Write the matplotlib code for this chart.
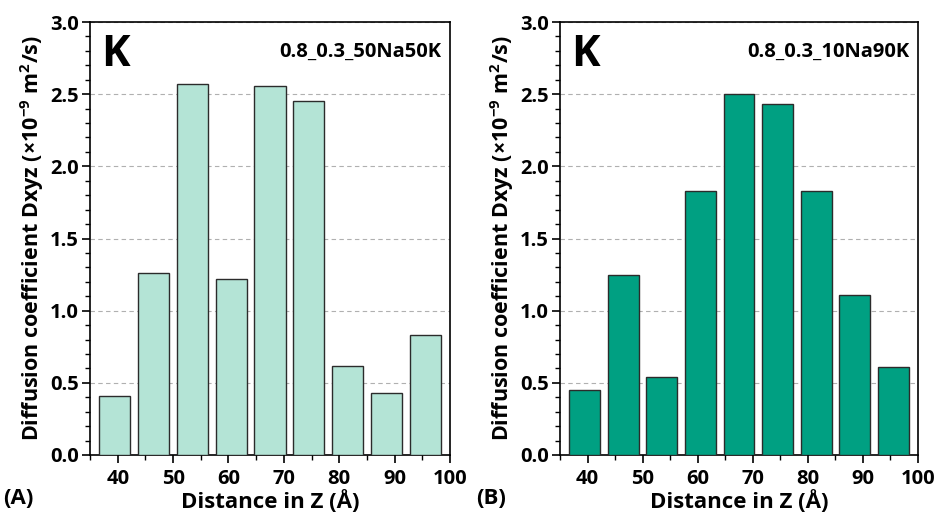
import matplotlib
matplotlib.use("Agg")
import matplotlib.pyplot as plt
from matplotlib.ticker import MultipleLocator

plt.rcParams['font.family'] = ['Open Sans', 'DejaVu Sans']
plt.rcParams['font.weight'] = 'bold'
plt.rcParams['mathtext.fontset'] = 'custom'
plt.rcParams['mathtext.rm'] = 'Open Sans:bold'
plt.rcParams['mathtext.it'] = 'Open Sans:bold'
plt.rcParams['mathtext.bf'] = 'Open Sans:bold'
plt.rcParams['mathtext.default'] = 'bf'

centers = [39.5, 46.5, 53.5, 60.5, 67.5, 74.5, 81.5, 88.5, 95.5]
d_50na50k = [0.41, 1.26, 2.57, 1.22, 2.56, 2.45, 0.62, 0.43, 0.83]
d_10na90k = [0.45, 1.25, 0.54, 1.83, 2.50, 2.43, 1.83, 1.11, 0.61]
labels = ["0.8_0.3_50Na50K", "0.8_0.3_10Na90K"]
colors = ["#b4e4d6", "#00a082"]
panel = ["(A)", "(B)"]
xticks = [40, 50, 60, 70, 80, 90, 100]
yticks = [0.0, 0.5, 1.0, 1.5, 2.0, 2.5, 3.0]

fig = plt.figure(figsize=(9.37, 5.18), dpi=100)
W, H = 937, 518
rects = [(90, 22, 360, 433), (560, 22, 358, 433)]
for i, (vals, lab, col, pl) in enumerate(zip([d_50na50k, d_10na90k], labels, colors, panel)):
    x0, y0, w, h = rects[i]
    ax = fig.add_axes([x0 / W, 1 - (y0 + h) / H, w / W, h / H])
    ax.bar(centers, vals, width=5.6, color=col, edgecolor="#2b2b2b", linewidth=1.0, zorder=3)
    ax.set_xlim(35, 100)
    ax.set_ylim(0, 3.0)
    ax.set_xticks(xticks)
    ax.set_yticks(yticks)
    ax.set_yticklabels([f"{v:.1f}" for v in yticks])
    ax.xaxis.set_minor_locator(MultipleLocator(5))
    ax.yaxis.set_minor_locator(MultipleLocator(0.1))
    ax.tick_params(axis='both', which='major', direction='out', length=6, width=1.2, labelsize=14.5)
    ax.tick_params(axis='x', which='major', pad=4)
    ax.tick_params(axis='y', which='major', pad=2)
    ax.tick_params(axis='both', which='minor', direction='out', length=3.5, width=1.0)
    ax.tick_params(top=False, right=False, which='both')
    for s in ax.spines.values():
        s.set_linewidth(1.2)
    ax.yaxis.grid(True, linestyle=(0, (4, 3)), color="#b0b0b0", linewidth=0.8, zorder=0)
    ax.set_axisbelow(True)
    ax.set_xlabel("Distance in Z (Å)", fontsize=16, fontweight='bold', labelpad=1)
    ax.set_ylabel("Diffusion coefficient Dxyz (×10$^{-9}$ m$^{2}$/s)", fontsize=15.5, fontweight='bold', labelpad=3)
    ax.text(0.03, 0.975, "K", transform=ax.transAxes, fontsize=31, fontweight='bold', va='top', ha='left')
    ax.text(0.975, 0.955, lab, transform=ax.transAxes, fontsize=14.5, fontweight='bold', va='top', ha='right')
    fig.text((3 if i == 0 else 476) / W, 1 - 498 / H, pl, fontsize=16, fontweight='bold', va='center', ha='left')
    for t in ax.get_xticklabels() + ax.get_yticklabels():
        t.set_fontweight('bold')

fig.savefig("out.png", dpi=100)
